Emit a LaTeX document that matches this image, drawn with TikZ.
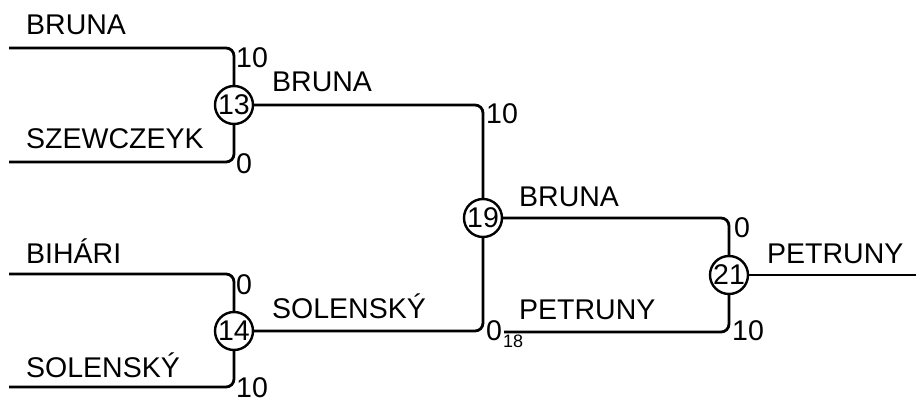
\documentclass[tikz,border=0pt]{standalone}
\usepackage{fontspec}
\setmainfont{Liberation Sans}
\usetikzlibrary{positioning}

\begin{document}
\begin{tikzpicture}[x=1pt,y=-1pt]
      \useasboundingbox (0,0) rectangle (916,404);
      \begin{scope}[every node/.style={circle,draw,line width=2.4pt,inner sep=0pt,minimum size=38pt,font=\fontsize{28.5}{30}\selectfont}]
        \node (M13) at (234,105) {13};
        \node (M14) at (234,331) {14};
        \node (M19) at (483,218) {19};
        \node (M21) at (729,275) {21};
      \end{scope}
      \coordinate (P1) at (9,48);
      \coordinate (P2) at (9,162);
      \coordinate (P3) at (9,274);
      \coordinate (P4) at (9,387);
      \coordinate (P18) at (504,332);
      \coordinate (W) at (916,275);
      \begin{scope}[every node/.style={anchor=base west,inner sep=0pt,font=\fontsize{28.5}{30}\selectfont}]
        \node (N1) at (26,35) {BRUNA};
        \node (N2) at (26,148) {SZEWCZEYK};
        \node (N3) at (26,263) {BIHÁRI};
        \node (N4) at (26,377) {SOLENSKÝ};
        \node (N13) at (272,92) {BRUNA};
        \node (N14) at (272,318) {SOLENSKÝ};
        \node (N19) at (519,206) {BRUNA};
        \node (N18) at (519,319) {PETRUNY};
        \node (N21) at (767,263) {PETRUNY};
      \end{scope}
      \begin{scope}[every node/.style={anchor=base west,inner sep=0pt,font=\fontsize{28.5}{30}\selectfont}]
        \node (S1) at (236,68) {10};
        \node (S2) at (236,173) {0};
        \node (S3) at (236,294) {0};
        \node (S4) at (236,397) {10};
        \node (S13) at (486,124) {10};
        \node (S14) at (486,340) {0};
        \node (S18) [font=\fontsize{18}{20}\selectfont] at (503,347) {18};
        \node (S19) at (734,237) {0};
        \node (S21) at (732,340) {10};
      \end{scope}
      \begin{scope}[line width=2.8pt,rounded corners=8pt]
        \draw (P1) -| (M13.north);
        \draw (P2) -| (M13.south);
        \draw (P3) -| (M14.north);
        \draw (P4) -| (M14.south);
        \draw (M13.east) -| (M19.north);
        \draw (M14.east) -| (M19.south);
        \draw (M19.east) -| (M21.north);
        \draw (P18) -| (M21.south);
        \draw (M21.east) -- (W);
      \end{scope}
    \end{tikzpicture}
\end{document}
